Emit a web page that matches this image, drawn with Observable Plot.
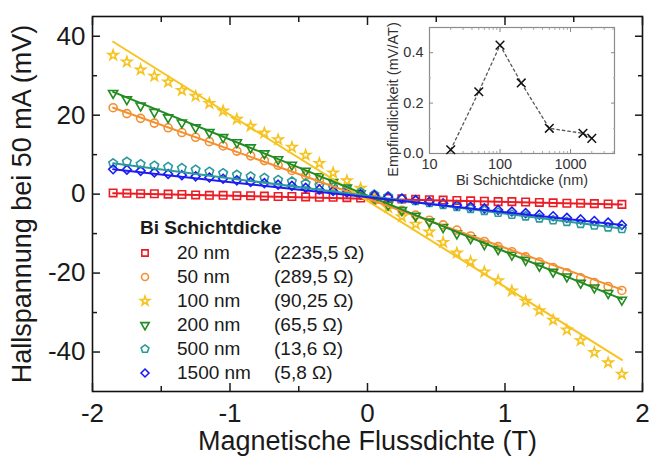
<!DOCTYPE html>
<html><head><meta charset="utf-8">
<script src="https://cdn.jsdelivr.net/npm/d3@7"></script>
<script src="https://cdn.jsdelivr.net/npm/@observablehq/plot@0.6"></script>
<style>
body{margin:0;background:#fff;font-family:"Liberation Sans",Arial,sans-serif;}
#wrap{position:relative;width:651px;height:459px;overflow:hidden;background:#fff;}
#main,#inset,#legend{position:absolute;}
#main{left:0;top:0;}
#inset{left:375px;top:20px;}
#legend{left:137px;top:216px;color:#1a1a1a;font-size:19px;line-height:24px;}
#legend .title{font-weight:bold;margin-left:3px;margin-bottom:1px;}
#legend .row{display:flex;align-items:center;height:24px;}
#legend .sym{width:16px;height:16px;margin-right:24px;}
#legend .lab{width:97px;}
</style></head><body>
<div id="wrap"><div id="main"></div><div id="inset"></div><div id="legend"></div></div>
<script>
// ---- data ----
const fieldT = [-1.85,-1.75,-1.65,-1.55,-1.45,-1.35,-1.25,-1.15,-1.05,-0.95,-0.85,-0.75,-0.65,-0.55,-0.45,-0.35,-0.25,-0.15,-0.05,
                0.05,0.15,0.25,0.35,0.45,0.55,0.65,0.75,0.85,0.95,1.05,1.15,1.25,1.35,1.45,1.55,1.65,1.75,1.85];
const seriesNames = ["20 nm","50 nm","100 nm","200 nm","500 nm","1500 nm"];
const resistances = ["(2235,5 Ω)","(289,5 Ω)","(90,25 Ω)","(65,5 Ω)","(13,6 Ω)","(5,8 Ω)"];
const hall20 = [0.3,0.2,0.1,0.1,0.0,-0.1,-0.2,-0.3,-0.3,-0.4,-0.4,-0.5,-0.6,-0.6,-0.7,-0.8,-0.8,-0.9,-1.0,
                -1.0,-1.1,-1.2,-1.3,-1.4,-1.5,-1.6,-1.7,-1.8,-1.9,-1.9,-2.0,-2.1,-2.2,-2.3,-2.3,-2.4,-2.5,-2.6];
const hall50 = [21.9,20.4,19.2,18.0,16.8,15.6,14.4,13.3,12.2,10.9,9.7,8.5,7.3,6.0,4.7,3.4,2.2,0.9,-0.3,
                -1.6,-2.8,-4.1,-5.3,-6.6,-7.8,-9.1,-10.6,-12.0,-13.3,-14.6,-15.9,-17.2,-18.6,-19.9,-21.2,-22.4,-23.4,-24.4];
const hall100 = [35.2,33.5,31.5,29.9,28.4,26.3,24.8,23.0,21.1,19.0,17.2,15.5,13.8,11.9,9.9,7.8,5.4,3.4,1.5,
                 -1.0,-3.4,-5.7,-7.6,-9.6,-12.2,-14.9,-17.1,-19.7,-21.9,-24.5,-27.1,-29.5,-31.9,-34.4,-37.1,-40.1,-42.7,-45.6];
const hall200 = [25.6,24.0,22.4,20.8,19.4,18.1,16.9,15.7,14.4,13.1,11.8,10.3,8.8,7.4,5.9,4.5,3.0,1.6,0.2,
                 -1.3,-2.7,-4.1,-5.5,-7.0,-8.4,-10.0,-11.2,-12.7,-14.0,-15.4,-16.7,-18.2,-19.7,-20.9,-22.5,-23.7,-25.1,-26.8];
const hall500 = [7.8,8.2,7.6,7.2,6.9,6.6,6.2,5.7,5.3,4.9,4.5,4.1,3.6,3.2,2.7,2.2,1.7,1.1,0.5,
                 -0.1,-0.6,-1.2,-1.7,-2.2,-2.7,-3.2,-3.7,-4.2,-4.7,-5.2,-5.6,-6.1,-6.6,-7.0,-7.5,-7.9,-8.4,-8.8];
const hall1500 = [6.3,6.2,5.9,5.5,5.1,4.8,4.5,4.2,3.9,3.5,3.1,2.8,2.4,2.1,1.6,1.2,0.8,0.4,0.0,
                  -0.3,-0.7,-1.1,-1.5,-1.9,-2.3,-2.8,-3.2,-3.6,-4.0,-4.4,-4.8,-5.2,-5.6,-6.0,-6.4,-6.8,-7.2,-7.8];
// linear fit lines: value at start and end of the field range
const fitRange = [-1.85, 1.85];
const fitStart = [0.25, 21.9, 38.6, 25.9, 7.8, 6.3];
const fitEnd = [-2.6, -24.2, -42.0, -26.6, -8.7, -7.8];
// axis ticks
const xMajor = [-2,-1,0,1,2];
const xMinor = [-1.5,-0.5,0.5,1.5];
const yMajor = [-40,-20,0,20,40];
const yMinor = [-30,-10,10,30];
// inset
const insetThickness = [20, 50, 100, 200, 500, 1500, 2000];
const insetSensitivity = [0.015, 0.245, 0.43, 0.28, 0.10, 0.08, 0.06];
const insetXMajor = [10, 100, 1000];
const insetYMajor = [0.0, 0.2, 0.4];
const insetYMinor = [0.1, 0.3];

// ---- styles ----
const colors = ["#ec1c24", "#f39031", "#f6c320", "#218c21", "#2a9a9a", "#1c1cf2"];
const symDown = { draw(ctx, size) { const s3 = Math.sqrt(3); const y = -Math.sqrt(size / (s3 * 3));
  ctx.moveTo(0, -2 * y); ctx.lineTo(-s3 * y, y); ctx.lineTo(s3 * y, y); ctx.closePath(); } };
const symPent = { draw(ctx, size) { const R = Math.sqrt(size / (2.5 * Math.sin(2 * Math.PI / 5)));
  for (let k = 0; k < 5; k++) { const a = -Math.PI / 2 + k * 2 * Math.PI / 5;
    const px = R * Math.cos(a), py = R * Math.sin(a); if (k) ctx.lineTo(px, py); else ctx.moveTo(px, py); }
  ctx.closePath(); } };
const symbols = [d3.symbolSquare, d3.symbolCircle, d3.symbolStar, symDown, symPent, d3.symbolDiamond2];
const radii = [4.2, 4.0, 3.1, 3.4, 3.9, 4.0];
const values = [hall20, hall50, hall100, hall200, hall500, hall1500];

// ---- main plot ----
const marks = [];
values.forEach((vals, i) => {
  const data = fieldT.map((t, j) => ({t, v: vals[j]}));
  marks.push(Plot.dot(data, {x: "t", y: "v", stroke: colors[i], symbol: symbols[i], r: radii[i], strokeWidth: 1.6}));
});
values.forEach((vals, i) => {
  const data = fitRange.map((t, k) => ({t, v: k === 0 ? fitStart[i] : fitEnd[i]}));
  marks.push(Plot.line(data, {x: "t", y: "v", stroke: colors[i], strokeWidth: 2}));
});
const blank = () => "";
const plain = d => String(d);
const main = Plot.plot({
  width: 651, height: 459,
  marginLeft: 92, marginRight: 9, marginTop: 16, marginBottom: 68,
  style: {fontFamily: "'Liberation Sans', Arial, sans-serif", fontSize: "26px", color: "#1a1a1a", background: "transparent", overflow: "visible"},
  x: {domain: [-2, 2]},
  y: {domain: [-50, 45]},
  marks: [
    ...marks,
    Plot.frame({stroke: "#111", strokeWidth: 1.6}),
    Plot.axisX(xMajor, {anchor: "bottom", tickSize: -8, tickPadding: 20, label: null, strokeWidth: 1.5, tickFormat: plain}),
    Plot.axisX(xMinor, {anchor: "bottom", tickSize: -5, tickFormat: blank, label: null, strokeWidth: 1.5}),
    Plot.axisX(xMajor, {anchor: "top", tickSize: -8, tickFormat: blank, label: null, strokeWidth: 1.5}),
    Plot.axisX(xMinor, {anchor: "top", tickSize: -5, tickFormat: blank, label: null, strokeWidth: 1.5}),
    Plot.axisY(yMajor, {anchor: "left", tickSize: -8, tickPadding: 15, label: null, strokeWidth: 1.5, tickFormat: plain}),
    Plot.axisY(yMinor, {anchor: "left", tickSize: -5, tickFormat: blank, label: null, strokeWidth: 1.5}),
    Plot.axisY(yMajor, {anchor: "right", tickSize: -8, tickFormat: blank, label: null, strokeWidth: 1.5}),
    Plot.axisY(yMinor, {anchor: "right", tickSize: -5, tickFormat: blank, label: null, strokeWidth: 1.5}),
    Plot.text(["Magnetische Flussdichte (T)"], {frameAnchor: "bottom", dy: 50, textAnchor: "middle", lineAnchor: "middle", fontSize: 27, fill: "#1a1a1a"}),
    Plot.text(["Hallspannung bei 50 mA (mV)"], {frameAnchor: "left", dx: -70, rotate: -90, textAnchor: "middle", lineAnchor: "middle", fontSize: 27, fill: "#1a1a1a"})
  ]
});
document.getElementById("main").appendChild(main);

// ---- inset ----
const insetData = insetThickness.map((d, i) => ({d, s: insetSensitivity[i]}));
const insetXMinor = [];
[10, 100, 1000].forEach(dec => { for (let m = 2; m <= 9; m++) { const v = dec * m; if (v <= 4200) insetXMinor.push(v); } });
const inset = Plot.plot({
  width: 249, height: 175,
  marginLeft: 54, marginRight: 10, marginTop: 7, marginBottom: 42,
  style: {fontFamily: "'Liberation Sans', Arial, sans-serif", fontSize: "14.5px", color: "#333", background: "transparent", overflow: "visible"},
  x: {type: "log", domain: [10, 4200]},
  y: {domain: [0, 0.5]},
  marks: [
    Plot.frame({stroke: "#8c8c8c", strokeWidth: 1.2, fill: "white"}),
    Plot.axisX(insetXMajor, {anchor: "bottom", tickSize: -4, tickPadding: 9, label: null, stroke: "#888", tickFormat: d3.format("d")}),
    Plot.axisX(insetXMinor, {anchor: "bottom", tickSize: -2, tickFormat: blank, label: null, stroke: "#aaa"}),
    Plot.axisX(insetXMajor, {anchor: "top", tickSize: -4, tickFormat: blank, label: null, stroke: "#888"}),
    Plot.axisX(insetXMinor, {anchor: "top", tickSize: -2, tickFormat: blank, label: null, stroke: "#aaa"}),
    Plot.axisY(insetYMajor, {anchor: "left", tickSize: -4, tickPadding: 10, label: null, stroke: "#888", tickFormat: d3.format(".1f")}),
    Plot.axisY(insetYMinor, {anchor: "left", tickSize: -2, tickFormat: blank, label: null, stroke: "#aaa"}),
    Plot.axisY(insetYMajor, {anchor: "right", tickSize: -4, tickFormat: blank, label: null, stroke: "#888"}),
    Plot.axisY(insetYMinor, {anchor: "right", tickSize: -2, tickFormat: blank, label: null, stroke: "#aaa"}),
    Plot.line(insetData, {x: "d", y: "s", stroke: "#555", strokeWidth: 1.3, strokeDasharray: "2.5,3"}),
    Plot.dot(insetData, {x: "d", y: "s", symbol: "times", r: 4, stroke: "#111", strokeWidth: 1.5}),
    Plot.text(["Bi Schichtdicke (nm)"], {frameAnchor: "bottom", dy: 27, textAnchor: "middle", lineAnchor: "middle", fontSize: 14.5, fill: "#333"}),
    Plot.text(["Empfindlichkeit (mV/AT)"], {frameAnchor: "left", dx: -36, dy: 9, rotate: -90, textAnchor: "middle", lineAnchor: "middle", fontSize: 14.5, fill: "#333"})
  ]
});
document.getElementById("inset").appendChild(inset);

// ---- legend ----
const legend = document.getElementById("legend");
const title = document.createElement("div");
title.className = "title"; title.textContent = "Bi Schichtdicke";
legend.appendChild(title);
const legendSizes = [40, 38, 26, 30, 40, 40];
seriesNames.forEach((name, i) => {
  const row = document.createElement("div"); row.className = "row";
  const svg = d3.create("svg").attr("class", "sym").attr("width", 16).attr("height", 16).attr("viewBox", "-8 -8 16 16");
  svg.append("path").attr("d", d3.symbol(symbols[i], legendSizes[i])()).attr("fill", "none")
     .attr("stroke", colors[i]).attr("stroke-width", 1.6);
  row.appendChild(svg.node());
  const lab = document.createElement("span"); lab.className = "lab"; lab.textContent = name; row.appendChild(lab);
  const res = document.createElement("span"); res.textContent = resistances[i]; row.appendChild(res);
  legend.appendChild(row);
});
</script>
</body></html>
